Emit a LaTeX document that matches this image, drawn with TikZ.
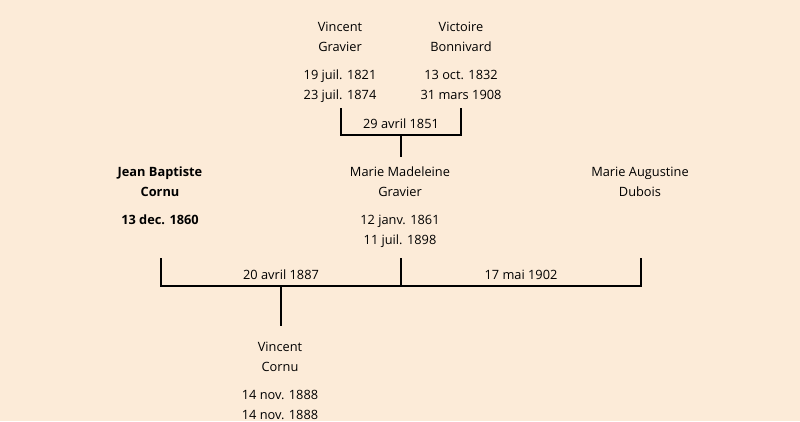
\documentclass[tikz,border=0pt]{standalone}
\usepackage{fontspec}
\setmainfont{Open Sans}
\usepackage{xcolor}
\usetikzlibrary{positioning}
\definecolor{paper}{RGB}{252,235,216}

\tikzset{
  person/.style={align=center,anchor=north,inner sep=0pt,font=\fontsize{12.8}{20}\selectfont},
  wedding/.style={inner sep=0pt,font=\fontsize{12.8}{20}\selectfont},
  link/.style={line width=1.6pt}
}

\begin{document}
\begin{tikzpicture}[x=1pt,y=-1pt]
		\fill[paper] (0,0) rectangle (800,421);
		\useasboundingbox (0,0) rectangle (800,421);

		% grand parents
		\node[person] (vg) at (340,22) {Vincent\\Gravier\\[8pt]19 juil. 1821\\23 juil. 1874};
		\node[person] (vb) at (461,22) {Victoire\\Bonnivard\\[8pt]13 oct. 1832\\31 mars 1908};
		\node[wedding] (w1) at (401,124) {29 avril 1851};

		% parents
		\node[person,font=\fontsize{12.8}{20}\selectfont\bfseries] (jbc) at (160,167) {Jean Baptiste\\Cornu\\[8pt]13 dec. 1860};
		\node[person] (mmg) at (400,167) {Marie Madeleine\\Gravier\\[8pt]12 janv. 1861\\11 juil. 1898};
		\node[person] (mad) at (640,167) {Marie Augustine\\Dubois};
		\node[wedding] (w2) at (281,275) {20 avril 1887};
		\node[wedding] (w3) at (521,275) {17 mai 1902};

		% child
		\node[person] (vc) at (280,342) {Vincent\\Cornu\\[8pt]14 nov. 1888\\14 nov. 1888};

		\coordinate (vgd) at (341,108);
		\coordinate (vbd) at (461,108);
		\coordinate (w1c) at (401,135);
		\coordinate (mmgu) at (401,157);
		\coordinate (jbcd) at (161,258);
		\coordinate (mmgd) at (401,258);
		\coordinate (madd) at (641,258);
		\coordinate (w2c) at (281,286);
		\coordinate (vcu) at (281,326);

		\draw[link] (vgd) |- (w1c) -| (vbd);
		\draw[link] (w1c) -- (mmgu);
		\draw[link] (jbcd) |- (w2c) -| (madd);
		\draw[link] (mmgd) -- (mmgd |- w2c);
		\draw[link] (w2c) -- (vcu);
\end{tikzpicture}
\end{document}
